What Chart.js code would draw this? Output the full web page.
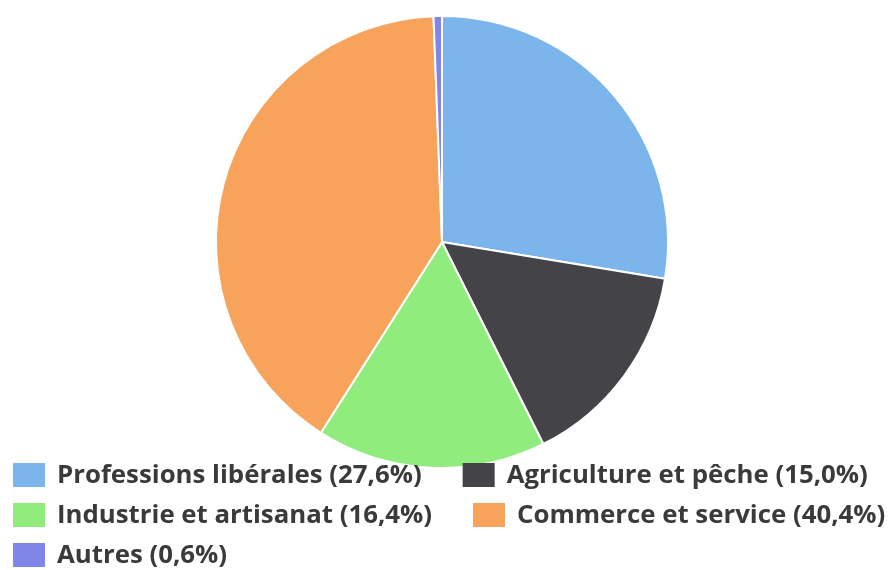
<!DOCTYPE html>
<html>
<head>
<meta charset="utf-8">
<script src="https://cdn.jsdelivr.net/npm/chart.js@4.4.1/dist/chart.umd.min.js"></script>
<style>
  html, body { margin: 0; padding: 0; background: #ffffff; }
  #wrap { width: 888px; height: 570px; position: relative; }
</style>
</head>
<body>
<div id="wrap"><canvas id="c" width="888" height="570"></canvas></div>
<script>
const categories = ['Professions libérales', 'Agriculture et pêche', 'Industrie et artisanat', 'Commerce et service', 'Autres'];
const values = [27.6, 15.0, 16.4, 40.4, 0.6];
const colors = ['#7cb5ec', '#434348', '#90ed7d', '#f7a35c', '#8085e9'];

const legendLabels = categories.map((c, i) => c + ' (' + values[i].toFixed(1).replace('.', ',') + '%)');

const flowLegend = {
  id: 'flowLegend',
  afterDraw(chart) {
    const ctx = chart.ctx;
    const o = chart.options.plugins.flowLegend;
    ctx.save();
    ctx.font = o.font;
    ctx.textBaseline = 'middle';
    ctx.textAlign = 'left';
    let x = o.left, row = 0;
    legendLabels.forEach((t, i) => {
      const w = o.boxW + o.textGap + ctx.measureText(t).width;
      if (i > 0 && x + w > o.maxRight) { row++; x = o.left; }
      const cy = o.top + row * o.rowH;
      ctx.fillStyle = colors[i];
      ctx.fillRect(x, cy - o.boxH / 2, o.boxW, o.boxH);
      ctx.fillStyle = o.color;
      ctx.fillText(t, x + o.boxW + o.textGap, cy + 1);
      x += w + o.itemGap;
    });
    ctx.restore();
  }
};

new Chart(document.getElementById('c'), {
  type: 'pie',
  data: {
    labels: legendLabels,
    datasets: [{
      data: values,
      backgroundColor: colors,
      borderColor: '#ffffff',
      borderWidth: 2,
      hoverOffset: 0
    }]
  },
  options: {
    responsive: false,
    animation: false,
    layout: { padding: { top: 15, bottom: 101, left: 0, right: 4 } },
    plugins: {
      legend: { display: false },
      tooltip: { enabled: false },
      flowLegend: { font: '700 25.8px "Open Sans"', color: '#3a3a3a', left: 13, top: 475, rowH: 40, boxW: 32, boxH: 24, textGap: 12, itemGap: 41, maxRight: 900 }
    }
  },
  plugins: [flowLegend]
});
</script>
</body>
</html>
